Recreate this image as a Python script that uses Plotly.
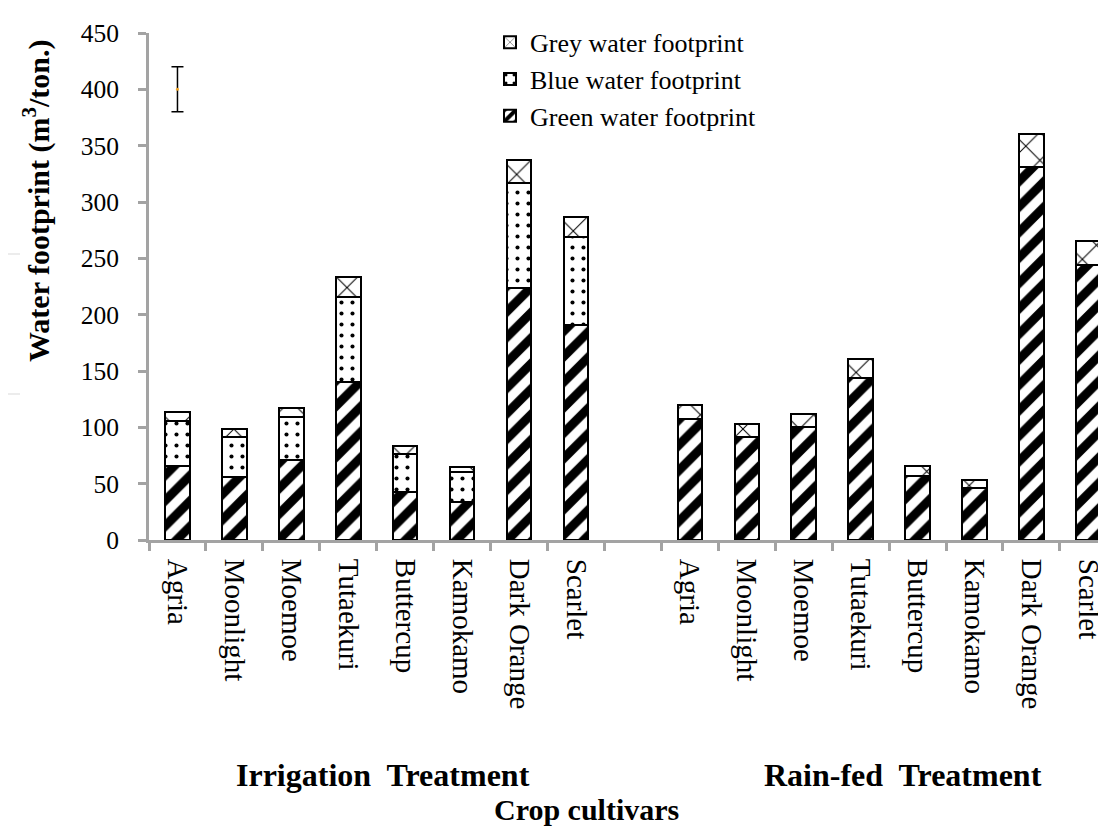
import plotly.graph_objects as go

# ---- data ----
cultivars = ["Agria", "Moonlight", "Moemoe", "Tutaekuri", "Buttercup",
             "Kamokamo", "Dark Orange", "Scarlet"]
irr_green = [66, 56, 71, 140, 43, 34, 224, 191]
irr_blue = [40, 35, 38, 76, 33, 26, 93, 78]
irr_grey = [8, 7.5, 8, 17, 7, 5, 20, 18]
rain_green = [107, 91, 100, 144, 57, 46, 331, 244]
rain_grey = [13, 12, 12, 17, 9, 7, 29, 21]
group_labels = ["Irrigation  Treatment", "Rain-fed  Treatment"]
y_title = "Water footprint (m<sup>3</sup>/ton.)"
x_title = "Crop cultivars"
err_center = [400]
err_half = [20]

FONT = "Liberation Serif"
AXIS_GREY = "#a3a3a3"

W, H = 1106, 828
ML, MR, MT, MB = 141, 0, 25, 296

irr_x = list(range(len(cultivars)))
rain_x = [len(cultivars) + 1 + i for i in range(len(cultivars))]
all_x = irr_x + rain_x
all_labels = cultivars + cultivars

bar_w = 0.43
line = dict(color="black", width=2)

fig = go.Figure()
fig.add_trace(go.Bar(
    x=all_x, y=irr_green + rain_green, name="Green water footprint", width=bar_w,
    marker=dict(color="white", line=line,
                pattern=dict(shape="/", fgcolor="black", bgcolor="white", size=18,
                             solidity=0.5, fgopacity=1)),
))
fig.add_trace(go.Bar(
    x=irr_x, y=irr_blue, name="Blue water footprint", width=bar_w,
    marker=dict(color="white", line=line,
                pattern=dict(shape=".", fgcolor="black", bgcolor="white", size=11,
                             solidity=0.11, fgopacity=1)),
))
fig.add_trace(go.Bar(
    x=all_x, y=irr_grey + rain_grey, name="Grey water footprint", width=bar_w,
    marker=dict(color="white", line=line,
                pattern=dict(shape="x", fgcolor="black", bgcolor="white", size=20,
                             solidity=0.1, fgopacity=1)),
))
fig.add_trace(go.Scatter(
    x=[irr_x[0]], y=err_center, mode="markers", showlegend=False,
    marker=dict(color="#f5a623", size=3),
    error_y=dict(type="data", array=err_half, color="black", thickness=1.5, width=6),
))

fig.update_layout(
    width=W, height=H,
    margin=dict(l=ML, r=MR, t=MT, b=MB),
    paper_bgcolor="white", plot_bgcolor="white",
    barmode="stack",
    font=dict(family=FONT, color="black"),
    legend=dict(x=0.3534, y=1.028, xanchor="left", yanchor="top", traceorder="reversed",
                font=dict(size=26, family=FONT, color="black"), bgcolor="rgba(0,0,0,0)"),
    xaxis=dict(
        range=[-0.5, 16.45], tickmode="array", tickvals=all_x, ticktext=all_labels,
        tickangle=90, ticks="", tickfont=dict(size=29, family=FONT, color="black"),
        ticklabelstandoff=10,
        showline=True, linecolor=AXIS_GREY, linewidth=3, showgrid=False, zeroline=False,
        minor=dict(tickmode="linear", tick0=-0.5, dtick=1, ticks="outside", ticklen=8,
                   tickwidth=2.5, tickcolor=AXIS_GREY, showgrid=False),
    ),
    yaxis=dict(
        range=[0, 450], dtick=50, tick0=0, ticks="outside", ticklen=8, tickwidth=2.5,
        tickcolor=AXIS_GREY, showline=True, linecolor=AXIS_GREY, linewidth=3,
        showgrid=False, zeroline=False,
        tickfont=dict(size=25.5, family=FONT, color="black"), ticklabelstandoff=14,
    ),
)

plot_w = W - ML - MR
plot_h = H - MT - MB


def px_to_paper_x(px):
    return (px - ML) / plot_w


def px_to_paper_y(py):
    return (H - MB - py) / plot_h


fig.add_annotation(text="<b>" + y_title + "</b>", textangle=-90,
                   x=px_to_paper_x(28), y=px_to_paper_y(193),
                   xref="paper", yref="paper", showarrow=False, xanchor="center", yanchor="middle",
                   font=dict(size=30, family=FONT, color="black"))
fig.add_annotation(text="<b>" + group_labels[0] + "</b>", x=px_to_paper_x(375), y=px_to_paper_y(767),
                   xref="paper", yref="paper", showarrow=False, xanchor="center", yanchor="middle",
                   font=dict(size=32, family=FONT, color="black"))
fig.add_annotation(text="<b>" + group_labels[1] + "</b>", x=px_to_paper_x(895), y=px_to_paper_y(767),
                   xref="paper", yref="paper", showarrow=False, xanchor="center", yanchor="middle",
                   font=dict(size=32, family=FONT, color="black"))
fig.add_annotation(text="<b>" + x_title + "</b>", x=px_to_paper_x(578), y=px_to_paper_y(801),
                   xref="paper", yref="paper", showarrow=False, xanchor="center", yanchor="middle",
                   font=dict(size=30, family=FONT, color="black"))

# faint scan lines at far left
for py in (246, 386):
    fig.add_shape(type="line", xref="paper", yref="paper",
                  x0=px_to_paper_x(0), x1=px_to_paper_x(12),
                  y0=px_to_paper_y(py), y1=px_to_paper_y(py),
                  line=dict(color="#e6e6e6", width=1.5))

fig.write_html("out.html")
